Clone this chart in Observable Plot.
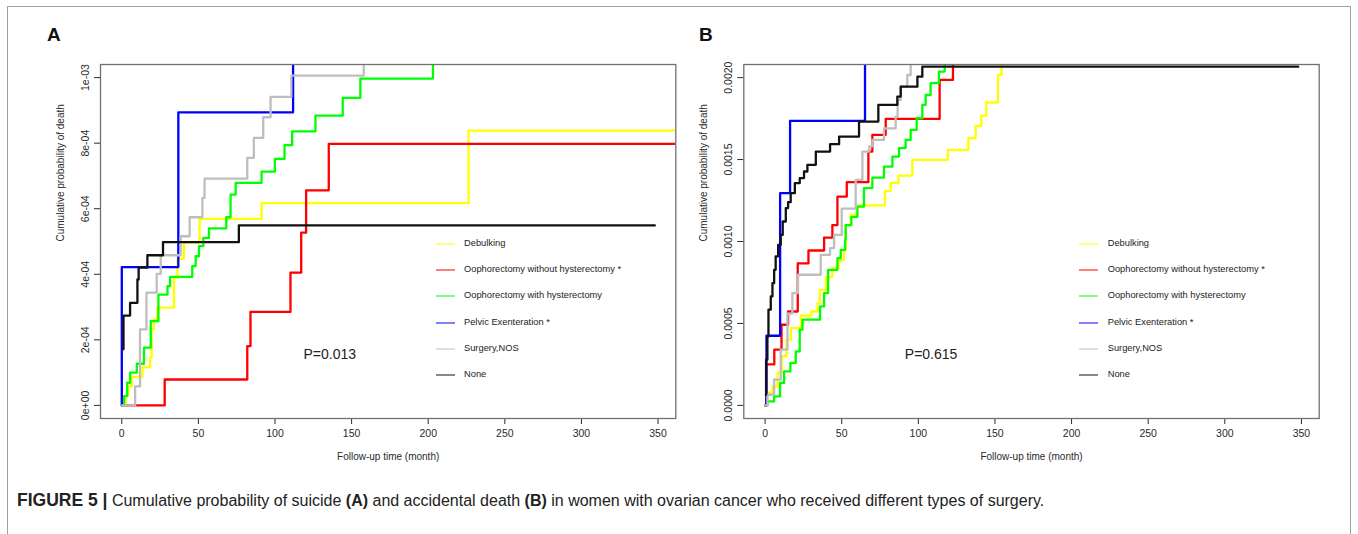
<!DOCTYPE html>
<html>
<head>
<meta charset="utf-8">
<script src="https://cdn.jsdelivr.net/npm/d3@7"></script>
<script src="https://cdn.jsdelivr.net/npm/@observablehq/plot@0.6"></script>
<style>
  html, body { margin: 0; padding: 0; background: #fff; }
  body { width: 1358px; height: 534px; overflow: hidden; font-family: "Liberation Sans", Arial, sans-serif; }
  #fig { position: relative; width: 1358px; height: 534px; }
  #frame { position: absolute; left: 7px; top: 6px; width: 1344px; height: 560px; border: 1.5px solid #a0a0a0; border-bottom: none; box-sizing: border-box; }
  .panel { position: absolute; top: 0; }
  .plabel { position: absolute; font-weight: bold; font-size: 19px; color: #111; }
  .leg { position: absolute; font-family: "Liberation Sans Narrow", "Liberation Sans", Arial, sans-serif; font-size: 9.3px; color: #222; white-space: nowrap; line-height: 1; }
  .legline { position: absolute; height: 2px; opacity: 0.5; }
  #caption { position: absolute; left: 17px; top: 490px; font-size: 16px; color: #222; white-space: nowrap; }
  #caption .fig { font-size: 17.5px; }
</style>
</head>
<body>
<div id="fig">
  <div id="frame"></div>
  <div class="plabel" style="left:47px;top:24px">A</div>
  <div class="plabel" style="left:699px;top:24px">B</div>
  <div id="panelA" class="panel" style="left:0px"></div>
  <div id="panelB" class="panel" style="left:680px"></div>
  <div id="legends"></div>
  <div id="caption"><b class="fig">FIGURE 5 |</b> Cumulative probability of suicide <b>(A)</b> and accidental death <b>(B)</b> in women with ovarian cancer who received different types of surgery.</div>
</div>
<script>
// ---------- categories ----------
const seriesNames = ["Debulking", "Oophorectomy without hysterectomy", "Oophorectomy with hysterectomy", "Pelvic Exenteration", "Surgery,NOS", "None"];
const legendLabels = ["Debulking", "Oophorectomy without hysterectomy *", "Oophorectomy with hysterectomy", "Pelvic Exenteration *", "Surgery,NOS", "None"];
const seriesColors = ["#ffff00", "#ff0000", "#00ff00", "#0000ff", "#bebebe", "#111111"];

// ---------- axis ticks ----------
const xTicks = [0, 50, 100, 150, 200, 250, 300, 350];
const aYTicks = [0, 0.0002, 0.0004, 0.0006, 0.0008, 0.001];
const aYTickLabels = ["0e+00", "2e-04", "4e-04", "6e-04", "8e-04", "1e-03"];
const bYTicks = [0, 0.0005, 0.001, 0.0015, 0.002];
const bYTickLabels = ["0.0000", "0.0005", "0.0010", "0.0015", "0.0020"];

const xTitle = "Follow-up time (month)";
const yTitle = "Cumulative probability of death";
const pValueA = "P=0.013";
const pValueB = "P=0.615";

// ---------- Panel A: suicide, [month, cumulative probability] ----------
const aDebulking = [[0,0],[2.5,0.000029],[4.2,0.000058],[6.5,0.000087],[13.5,0.000116],[18.5,0.000145],[19.5,0.000232],[21,0.000262],[23.2,0.000298],[34.1,0.000389],[36.3,0.000447],[40.6,0.000497],[50.8,0.000569],[91.2,0.000617],[226.3,0.000838],[370,0.000838]];
const aOophNoHyst = [[0,0],[28,0.000079],[81.9,0.000181],[84,0.000285],[110.1,0.000405],[117.1,0.000527],[120.3,0.000656],[135.1,0.000798],[370,0.000798]];
const aOophHyst = [[0,0],[1.5,0.000028],[3.5,0.000069],[5.4,0.0001],[9.8,0.000127],[14.5,0.000176],[18.9,0.000257],[23.9,0.000338],[29.8,0.000364],[31.5,0.000392],[46,0.000425],[48.2,0.000455],[50.4,0.000486],[53.2,0.000511],[56.9,0.00054],[68.2,0.000574],[71,0.000643],[74.3,0.000679],[91.2,0.000713],[99.9,0.000752],[106.2,0.000794],[111.2,0.000836],[126.4,0.000884],[144.2,0.000938],[155.7,0.000997],[203.1,0.0013]];
const aPelvic = [[0,0],[0,0.000422],[36.9,0.000894],[111.8,0.0013]];
const aSurgeryNOS = [[0,0],[8.7,0.000058],[11.9,0.000232],[16.1,0.000344],[22.8,0.000401],[25.4,0.000458],[38.4,0.000516],[44.3,0.000574],[52.6,0.000633],[54,0.000692],[81.9,0.000755],[86.2,0.000816],[92.3,0.000879],[97.1,0.000941],[110.7,0.001006],[157.9,0.0013]];
const aNone = [[1.1,0.000171],[1.1,0.000274],[5.4,0.000313],[10.2,0.000384],[11,0.00042],[16.7,0.000458],[26.9,0.000498],[76.4,0.000549],[347.9,0.000549]];

// ---------- Panel B: accidental death ----------
const bDebulking = [[0,0],[1.5,0.000076],[4.8,0.000116],[8.1,0.000198],[10.9,0.000299],[13.9,0.0004],[16.8,0.000472],[23.3,0.000547],[30.2,0.000573],[34.2,0.000624],[35.7,0.000705],[39.6,0.000783],[43.9,0.000838],[48.3,0.000888],[51.5,0.00095],[52.6,0.0011],[55.9,0.001163],[60.2,0.00122],[78.2,0.001309],[82,0.001356],[87,0.001402],[96.1,0.001498],[119.3,0.001559],[132.6,0.00163],[137.4,0.001705],[141.1,0.001768],[144.3,0.001848],[151.9,0.002016],[154.3,0.0022]];
const bOophNoHyst = [[0,0],[0.7,0.00025],[6,0.00034],[10.7,0.000492],[15,0.000573],[21.3,0.000866],[28.3,0.000945],[38.5,0.001024],[43.9,0.0011],[47.2,0.001274],[53.3,0.001362],[67.4,0.001549],[70,0.00165],[78.7,0.001748],[113.9,0.001986],[122.6,0.0022]];
const bOophHyst = [[0,0],[1.5,0.000024],[5.9,0.000055],[9.8,0.000137],[12.4,0.000207],[16.5,0.000259],[20,0.000329],[22.6,0.000462],[24.4,0.000523],[35.9,0.000604],[38.5,0.000685],[41.1,0.000827],[47.2,0.000899],[49.4,0.000949],[52.2,0.00101],[52.6,0.0011],[56.3,0.00115],[60.2,0.001213],[64.5,0.001326],[70,0.00139],[77.6,0.001457],[83.1,0.001518],[87.4,0.00157],[91.7,0.00162],[95,0.001681],[98.9,0.001752],[102.6,0.001834],[104.8,0.001894],[108,0.001966],[113.4,0.002037],[117.2,0.0022]];
const bPelvic = [[0,0],[0.9,0.000425],[9.8,0.001295],[16.3,0.001736],[65.2,0.0022]];
const bSurgeryNOS = [[0,0],[1.5,0.000065],[5.9,0.000157],[10.2,0.00034],[14.6,0.00056],[17.8,0.000685],[21.5,0.000797],[36.3,0.000919],[42.4,0.00096],[45,0.00104],[50,0.0012],[59.1,0.001376],[63.5,0.001549],[68,0.00158],[70,0.00162],[77.6,0.00169],[85.2,0.001762],[86.5,0.001864],[88.5,0.001945],[92.8,0.002016],[95,0.0022]];
const bNone = [[0.5,0.000065],[0.65,0.000279],[1.5,0.00042],[2.2,0.000584],[3.7,0.000665],[4.8,0.000746],[5.9,0.000827],[6.9,0.000909],[8.5,0.00098],[10.2,0.00104],[11.5,0.001122],[13.5,0.001204],[15,0.00124],[16.7,0.001295],[19.4,0.001356],[22.6,0.001387],[25.4,0.001427],[27.6,0.001468],[33.1,0.001549],[42.4,0.001594],[48.3,0.00164],[61.3,0.001732],[73.9,0.001834],[86.3,0.001884],[88.5,0.001945],[99.4,0.002006],[102.6,0.002067],[347.9,0.002067]];

const panelASeries = [aDebulking, aOophNoHyst, aOophHyst, aPelvic, aSurgeryNOS, aNone];
const panelBSeries = [bDebulking, bOophNoHyst, bOophHyst, bPelvic, bSurgeryNOS, bNone];

const FONT = '"Liberation Sans Narrow", "Liberation Sans", Arial, sans-serif';

function makePanel(seriesList, yDomain, yTicks, yTickLabels, pText, cfg) {
  const lines = seriesList.map((s, i) =>
    Plot.line(s.map(([t, p]) => ({t, p, name: seriesNames[i]})), {
      x: "t", y: "p", stroke: seriesColors[i], strokeWidth: 2.3,
      curve: "step-after", clip: true
    })
  );
  return Plot.plot({
    width: cfg.width, height: 475,
    marginLeft: cfg.ml, marginRight: cfg.mr, marginTop: 64, marginBottom: 57,
    style: {fontFamily: FONT, fontSize: "10.5px", color: "#2a2a2a", background: "transparent", overflow: "visible"},
    x: {domain: [-13.9, 361.6], ticks: xTicks, tickSize: 6, tickPadding: 5, label: null, tickFormat: d => String(d)},
    y: {domain: yDomain, ticks: yTicks, tickSize: 6, tickPadding: 6, tickRotate: -90, label: null,
        tickFormat: d => yTickLabels[yTicks.indexOf(d)]},
    marks: [
      ...lines,
      Plot.frame({stroke: "#707070", strokeWidth: 1.3}),
      Plot.text([yTitle], {frameAnchor: "left", text: d => d, rotate: -90, dx: -40, fontSize: 10, fill: "#2a2a2a"}),
      Plot.text([xTitle], {frameAnchor: "bottom", text: d => d, dy: 41, fontSize: 10, fill: "#2a2a2a"}),
      Plot.text([pText], {frameAnchor: "left", text: d => d, textAnchor: "start", dx: cfg.pdx, dy: 113,
        fontSize: 14, fontFamily: '"Liberation Sans", Arial, sans-serif', fill: "#222"})
    ]
  });
}

document.getElementById("panelA").append(
  makePanel(panelASeries, [-0.00004, 0.00104], aYTicks, aYTickLabels, pValueA, {width: 680, ml: 100, mr: 4.7, pdx: 203})
);
document.getElementById("panelB").append(
  makePanel(panelBSeries, [-0.00008, 0.00208], bYTicks, bYTickLabels, pValueB, {width: 660, ml: 63.3, mr: 21.3, pdx: 161})
);

// legends
const legendHost = document.getElementById("legends");
[{lineX: 436, textX: 464}, {lineX: 1079.3, textX: 1107.7}].forEach(pos => {
  legendLabels.forEach((lab, i) => {
    const y = 244 + i * 26.2;
    const ln = document.createElement("div");
    ln.className = "legline";
    ln.style.left = pos.lineX + "px";
    ln.style.width = "19px";
    ln.style.top = (y - 1) + "px";
    ln.style.background = seriesColors[i];
    legendHost.append(ln);
    const tx = document.createElement("div");
    tx.className = "leg";
    tx.style.left = pos.textX + "px";
    tx.style.top = (y - 5) + "px";
    tx.textContent = lab;
    legendHost.append(tx);
  });
});
</script>
</body>
</html>
